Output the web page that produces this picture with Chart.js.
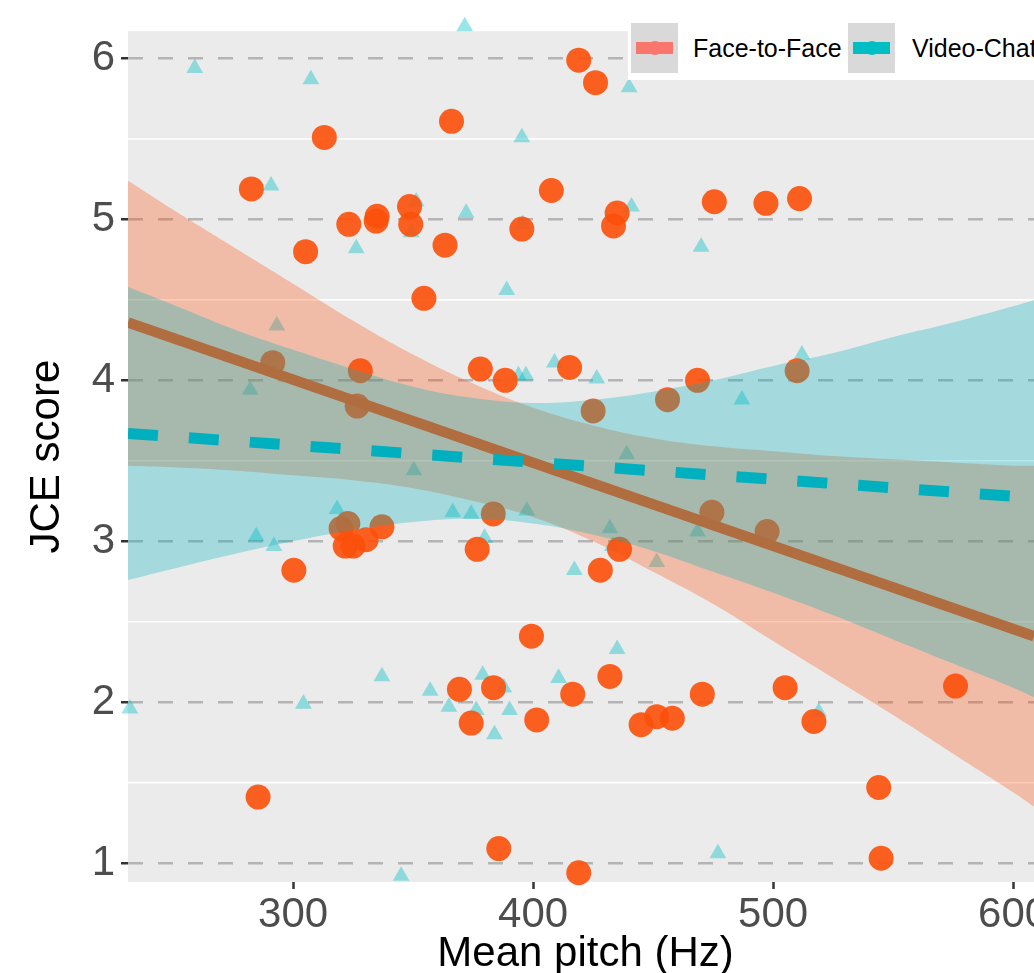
<!DOCTYPE html>
<html>
<head>
<meta charset="utf-8">
<title>JCE score by mean pitch</title>
<script src="https://cdn.jsdelivr.net/npm/chart.js@4.4.1/dist/chart.umd.min.js"></script>
<style>
  html, body { margin: 0; padding: 0; background: #fff; }
  body { width: 1034px; height: 973px; position: relative; overflow: hidden; }
  #chart { position: absolute; left: 0; top: 0; }
  .legend { position: absolute; left: 628px; top: 15px; width: 460px; height: 65px; background: #fff;
            font-family: 'Liberation Sans', Arial, sans-serif; font-size: 25px; color: #000; }
  .key { position: absolute; top: 8px; width: 47px; height: 50px; background: #d9d9d9; }
  .key .bar { position: absolute; left: 5px; top: 19px; width: 37px; height: 12px; }
  .key .dot { position: absolute; left: 16.5px; top: 18px; width: 14px; height: 14px; border-radius: 50%; }
  .legend .label { position: absolute; top: 18px; line-height: 30px; white-space: nowrap; }
</style>
</head>
<body>
<canvas id="chart" width="1080" height="1000"></canvas>
<div class="legend">
  <div class="key" style="left: 3px;"><div class="bar" style="background: #f8766d;"></div><div class="dot" style="background: #f8766d;"></div></div>
  <div class="label" style="left: 65px;">Face-to-Face</div>
  <div class="key" style="left: 220px;"><div class="bar" style="background: #00bfc4;"></div><div class="dot" style="background: #00bfc4;"></div></div>
  <div class="label" style="left: 284px;">Video-Chat</div>
</div>
<script>
// Face-to-Face observations (mean pitch Hz, JCE score)
const ftfX = [419, 426, 313, 366, 282.6, 407.6, 511, 497, 475.5, 435, 433.5, 395.3, 363.3, 348.5, 349, 335,
  334.6, 323.2, 305.2, 354.5, 415.2, 328, 378, 388.4, 291.5, 326.7, 425, 456, 468.5, 510, 474.5, 497.5,
  383.4, 320, 322.8, 337, 321.7, 325, 330.4, 376.7, 436, 428, 300.3, 399.3, 432, 369.3, 383.5, 374.2,
  401.5, 416.5, 445, 451.5, 458, 470.5, 505, 517, 576, 544, 545, 419, 385.7, 285.4];
const ftfY = [5.99, 5.85, 5.51, 5.61, 5.19, 5.18, 5.13, 5.10, 5.11, 5.04, 4.96, 4.94, 4.84, 5.08, 4.97, 5.02,
  4.99, 4.97, 4.80, 4.51, 4.08, 4.06, 4.07, 4.00, 4.11, 3.84, 3.81, 3.88, 4.00, 4.06, 3.18, 3.06,
  3.17, 3.08, 3.11, 3.09, 2.97, 2.97, 3.01, 2.95, 2.95, 2.82, 2.82, 2.41, 2.16, 2.08, 2.09, 1.87,
  1.89, 2.05, 1.86, 1.91, 1.90, 2.05, 2.09, 1.88, 2.10, 1.47, 1.03, 0.94, 1.09, 1.41];

// Video-Chat observations
const vcX = [371.5, 259, 307.4, 440, 395.3, 290.8, 351.3, 349.2, 326.3, 372.1, 395.7, 389, 293.2, 282.1,
  393.9, 397, 408.9, 350.3, 441, 470, 426.5, 487, 512, 439, 318.3, 284.6, 292, 366.5, 374.2, 397.4,
  379.8, 417.2, 337, 357.1, 379, 387.8, 410.6, 364.9, 376.3, 390.2, 383.9, 304.3, 232, 345, 432,
  468.5, 433, 451.5, 435, 519, 477];
const vcY = [6.20, 5.94, 5.87, 5.82, 5.51, 5.21, 5.11, 4.92, 4.82, 5.04, 4.97, 4.56, 4.34, 3.94,
  4.03, 4.03, 4.11, 3.44, 5.08, 4.83, 4.01, 3.88, 4.16, 3.54, 3.20, 3.03, 2.97, 3.18, 3.17, 3.19,
  3.02, 2.82, 2.16, 2.07, 2.17, 2.09, 2.15, 1.97, 1.95, 1.95, 1.80, 1.99, 1.96, 0.92, 3.08,
  3.06, 2.97, 2.87, 2.33, 1.94, 1.06];

// Confidence bands read at these pitches
const bandX = [231.2, 250, 275, 300, 325, 350, 375, 400, 425, 450, 475, 500, 525, 550, 575, 600, 608.75];
const ftfUpper = [5.24, 5.06, 4.83, 4.60, 4.37, 4.16, 3.98, 3.83, 3.72, 3.64, 3.59, 3.56, 3.53, 3.51, 3.49, 3.47, 3.47];
const ftfLower = [3.47, 3.46, 3.44, 3.41, 3.38, 3.33, 3.25, 3.15, 3.00, 2.81, 2.61, 2.38, 2.15, 1.92, 1.68, 1.44, 1.35];
const vcUpper = [4.58, 4.47, 4.32, 4.19, 4.07, 3.96, 3.89, 3.86, 3.88, 3.93, 4.00, 4.09, 4.17, 4.27, 4.36, 4.46, 4.50];
const vcLower = [2.76, 2.83, 2.92, 3.00, 3.07, 3.12, 3.14, 3.11, 3.04, 2.94, 2.81, 2.68, 2.54, 2.39, 2.24, 2.09, 2.03];

// Fitted lines (end points)
const fitX = [231.2, 608.75];
const ftfFit = [4.36, 2.41];
const vcFit = [3.67, 3.27];

// Axes
const xTicks = [300, 400, 500, 600];
const yTicks = [1, 2, 3, 4, 5, 6];
const minorY = [1.5, 2.5, 3.5, 4.5, 5.5];
const xMin = 231.2, xMax = 612.45;
const yMin = 0.8825, yMax = 6.17;

const tickFont = "'Liberation Sans Narrow', 'Liberation Sans', Arial, sans-serif";
const titleFont = "'Liberation Sans', Arial, sans-serif";

function pts(xs, ys) {
    return xs.map((x, i) => ({ x: x, y: ys[i] }));
}

// grey panel with white minor grid lines, drawn under everything else
const panelPlugin = {
    id: 'panel',
    beforeDraw(chart) {
        const { ctx, chartArea, scales } = chart;
        ctx.save();
        ctx.fillStyle = '#ebebeb';
        ctx.fillRect(chartArea.left, chartArea.top, chartArea.right - chartArea.left, chartArea.bottom - chartArea.top);
        ctx.strokeStyle = '#ffffff';
        ctx.lineWidth = 1.6;
        for (const v of minorY) {
            const y = scales.y.getPixelForValue(v);
            ctx.beginPath();
            ctx.moveTo(chartArea.left, y);
            ctx.lineTo(chartArea.right, y);
            ctx.stroke();
        }
        ctx.restore();
    }
};

const bandStyle = { type: 'line', borderWidth: 0, borderColor: 'transparent', pointRadius: 0, tension: 0.4 };

new Chart(document.getElementById('chart').getContext('2d'), {
    type: 'scatter',
    data: {
        datasets: [
            {
                label: 'Video-Chat', data: pts(vcX, vcY), pointStyle: 'triangle', pointRadius: 9.7,
                backgroundColor: 'rgba(0,191,196,0.4)', borderWidth: 0, clip: false, order: 8
            },
            {
                label: 'Face-to-Face', data: pts(ftfX, ftfY), pointStyle: 'circle', pointRadius: 12.5,
                backgroundColor: 'rgba(252,80,10,0.9)', borderWidth: 0, clip: false, order: 7
            },
            Object.assign({ data: pts(bandX, ftfUpper), fill: '+1', backgroundColor: 'rgba(252,80,10,0.3)', order: 6 }, bandStyle),
            Object.assign({ data: pts(bandX, ftfLower), fill: false, order: 6 }, bandStyle),
            {
                type: 'line', data: pts(fitX, ftfFit), borderColor: 'rgb(252,80,10)', borderWidth: 10.5,
                pointRadius: 0, fill: false, order: 5
            },
            Object.assign({ data: pts(bandX, vcUpper), fill: '+1', backgroundColor: 'rgba(0,180,190,0.3)', order: 4 }, bandStyle),
            Object.assign({ data: pts(bandX, vcLower), fill: false, order: 4 }, bandStyle),
            {
                type: 'line', data: pts(fitX, vcFit), borderColor: '#00b0be', borderWidth: 11,
                borderDash: [30, 31], borderCapStyle: 'butt', pointRadius: 0, fill: false, order: 3
            }
        ]
    },
    options: {
        responsive: false,
        animation: false,
        events: [],
        layout: { padding: { top: 27, right: 37, bottom: 0, left: 0 } },
        plugins: { legend: { display: false }, tooltip: { enabled: false } },
        scales: {
            x: {
                type: 'linear', min: xMin, max: xMax,
                afterBuildTicks: (s) => { s.ticks = xTicks.map(v => ({ value: v })); },
                afterFit: (s) => { s.height = 118; },
                grid: { drawOnChartArea: false, drawTicks: true, tickLength: 7, tickWidth: 2.5, tickColor: '#333333' },
                border: { display: false },
                ticks: { color: '#4d4d4d', font: { family: tickFont, size: 42 }, padding: 1, maxRotation: 0, autoSkip: false },
                title: {
                    display: true, text: 'Mean pitch (Hz)', color: '#000000',
                    font: { family: titleFont, size: 42 }, padding: { top: 0, bottom: 20 }
                }
            },
            y: {
                type: 'linear', min: yMin, max: yMax,
                afterBuildTicks: (s) => { s.ticks = yTicks.map(v => ({ value: v })); },
                afterFit: (s) => { s.width = 128; },
                grid: { color: '#b4b4b4', lineWidth: 2.5, tickLength: 7, tickWidth: 2.5, tickColor: '#333333', tickBorderDash: [] },
                border: { display: false, dash: [15, 15] },
                ticks: { color: '#4d4d4d', font: { family: tickFont, size: 42 }, padding: 6 },
                title: {
                    display: true, text: 'JCE score', color: '#000000',
                    font: { family: titleFont, size: 42 }, padding: { top: 22, bottom: 0 }
                }
            }
        }
    },
    plugins: [panelPlugin]
});
</script>
</body>
</html>
